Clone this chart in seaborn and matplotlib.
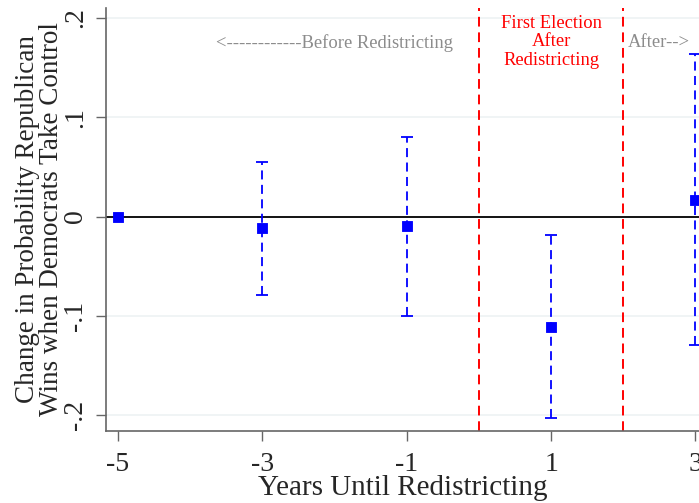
import numpy as np
import pandas as pd
import seaborn as sns
import matplotlib
matplotlib.use("Agg")
import matplotlib.pyplot as plt

sns.set_style("white")
plt.rcParams['font.family'] = ['Liberation Serif', 'DejaVu Serif']

# 估计值和置信区间
years = [-5, -3, -1, 1, 3]
coef = [0.0, -0.012, -0.010, -0.111, 0.017]
ci_low = [np.nan, -0.079, -0.100, -0.203, -0.129]
ci_high = [np.nan, 0.055, 0.080, -0.019, 0.164]
xticks = [-5, -3, -1, 1, 3]
yticks = [-0.2, -0.1, 0.0, 0.1, 0.2]
yticklabels = ['-.2', '-.1', '0', '.1', '.2']

df = pd.DataFrame({'year': years, 'coef': coef, 'lo': ci_low, 'hi': ci_high})

fig = plt.figure(figsize=(6.99, 5.03), dpi=100)
ax = fig.add_axes([106 / 699, 1 - 431 / 503, 1 - 106 / 699, (431 - 8) / 503])

for y in [-0.2, -0.1, 0.1, 0.2]:
    ax.axhline(y, color='#eef2f4', lw=1.2, zorder=0)
ax.axhline(0, color='black', lw=1.3, zorder=1)
ax.axvline(0, color='red', lw=1.4, ls=(0, (5, 3)), zorder=1)
ax.axvline(2, color='red', lw=1.4, ls=(0, (5, 3)), zorder=1)

ci = df.dropna()
eb = ax.errorbar(ci['year'], ci['coef'],
                 yerr=[ci['coef'] - ci['lo'], ci['hi'] - ci['coef']],
                 fmt='none', ecolor='blue', elinewidth=1.3, capsize=4, capthick=1.3, zorder=2)
eb[2][0].set_linestyle((0, (5, 3)))

sns.scatterplot(data=df, x='year', y='coef', marker='s', s=60, color='blue',
                edgecolor='blue', ax=ax, zorder=3)

ax.set_xlim(-5.167, 3.05)
ax.set_ylim(-0.216, 0.21)
ax.set_xticks(xticks)
ax.set_xticklabels([str(t) for t in xticks], fontsize=20)
ax.set_yticks(yticks)
ax.set_yticklabels(yticklabels, fontsize=20, rotation=90, va='center')
ax.tick_params(axis='both', bottom=True, left=True, direction='out', length=7,
               color='#666666', width=1, pad=6)
ax.tick_params(axis='x', pad=8)
ax.set_xlabel('Years Until Redistricting', fontsize=21, labelpad=-1)
ax.set_ylabel('Change in Probability Republican\nWins when Democrats Take Control', fontsize=19.5, linespacing=0.95)
ax.yaxis.set_label_coords(-0.071, 0.5)

for side in ['top', 'right']:
    ax.spines[side].set_visible(False)
for side in ['left', 'bottom']:
    ax.spines[side].set_color('#666666')
    ax.spines[side].set_linewidth(1.2)

ax.text(-2.0, 0.175, '<------------Before Redistricting', color='#8c8c8c', fontsize=13.4, ha='center', va='center')
ax.text(1.0, 0.176, 'First Election\nAfter\nRedistricting', color='red', fontsize=13.4, ha='center', va='center', linespacing=1.12)
ax.text(2.5, 0.175, 'After-->', color='#8c8c8c', fontsize=13.4, ha='center', va='center')

fig.savefig('out.png', dpi=100)
